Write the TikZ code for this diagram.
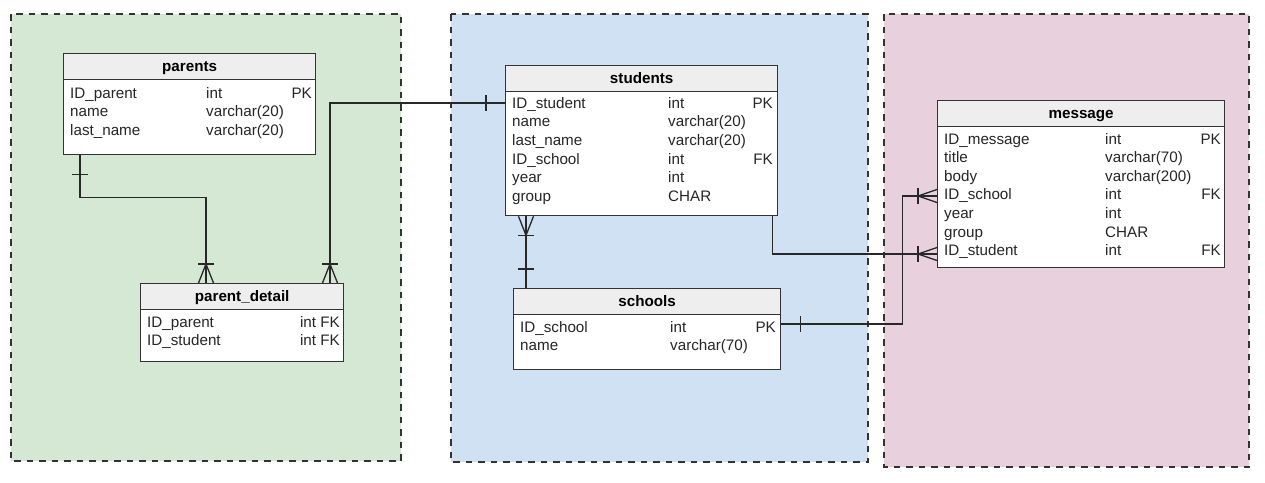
\documentclass[tikz,border=0pt]{standalone}
\usepackage{fontspec}
\setmainfont{Liberation Sans}
\usetikzlibrary{calc}
\definecolor{grpgreen}{RGB}{213,232,212}
\definecolor{grpblue}{RGB}{207,225,242}
\definecolor{grppink}{RGB}{232,208,220}
\definecolor{hdrgray}{RGB}{238,238,238}
\definecolor{lineclr}{RGB}{40,40,40}
\definecolor{bordclr}{RGB}{51,51,51}
\tikzset{
  grp/.style={draw=bordclr, line width=1.2pt, dash pattern=on 6.5pt off 6pt},
  tbl/.style={draw=bordclr, fill=white, line width=1.3pt, inner sep=0pt, anchor=north west},
  hdr/.style={draw=bordclr, fill=hdrgray, line width=1.3pt, inner sep=0pt, anchor=north west, minimum height=26pt},
  htxt/.style={font=\fontsize{15.2}{18}\selectfont\bfseries, inner sep=0pt, anchor=base},
  txt/.style={font=\fontsize{15.2}{18}\selectfont, inner sep=0pt, anchor=base west, text=black!85},
  rtxt/.style={font=\fontsize{15.2}{18}\selectfont, inner sep=0pt, anchor=base east, text=black!85},
  conn/.style={draw=lineclr, line width=1.3pt}
}
\begin{document}
\begin{tikzpicture}[x=1pt,y=-1pt]
\useasboundingbox (0,0) rectangle (1265,482);
% groups
\draw[grp, fill=grpgreen] (11,14) rectangle (401,461);
\draw[grp, fill=grpblue] (451,14) rectangle (868,462);
\draw[grp, fill=grppink] (884,14) rectangle (1249,467);

% parents
\node[tbl, minimum width=252pt, minimum height=101pt] (parents) at (63,53) {};
\node[hdr, minimum width=252pt] (parentsH) at (parents.north west) {};
\node[htxt] (parentsT) at ($(parentsH.center)+(0,5)$) {parents};
\node[txt] (p1) at (70,98) {ID\_parent};
\node[txt] (p1t) at (206,98) {int};
\node[rtxt] (p1k) at (312,98) {PK};
\node[txt] (p2) at (70,116.5) {name};
\node[txt] (p2t) at (206,116.5) {varchar(20)};
\node[txt] (p3) at (70,135) {last\_name};
\node[txt] (p3t) at (206,135) {varchar(20)};

% parent_detail
\node[tbl, minimum width=203pt, minimum height=78pt] (pd) at (140,283) {};
\node[hdr, minimum width=203pt] (pdH) at (pd.north west) {};
\node[htxt] (pdT) at ($(pdH.center)+(0,5)$) {parent\_detail};
\node[txt] (d1) at (147,327) {ID\_parent};
\node[rtxt] (d1k) at (340,327) {int FK};
\node[txt] (d2) at (147,345.5) {ID\_student};
\node[rtxt] (d2k) at (340,345.5) {int FK};

% students
\node[tbl, minimum width=272pt, minimum height=150pt] (students) at (505,65) {};
\node[hdr, minimum width=272pt] (studentsH) at (students.north west) {};
\node[htxt] (studentsT) at ($(studentsH.center)+(0,5)$) {students};
\node[txt] (s1) at (512,108) {ID\_student};
\node[txt] (s1t) at (668,108) {int};
\node[rtxt] (s1k) at (773,108) {PK};
\node[txt] (s2) at (512,126.7) {name};
\node[txt] (s2t) at (668,126.7) {varchar(20)};
\node[txt] (s3) at (512,145.4) {last\_name};
\node[txt] (s3t) at (668,145.4) {varchar(20)};
\node[txt] (s4) at (512,164.1) {ID\_school};
\node[txt] (s4t) at (668,164.1) {int};
\node[rtxt] (s4k) at (773,164.1) {FK};
\node[txt] (s5) at (512,182.8) {year};
\node[txt] (s5t) at (668,182.8) {int};
\node[txt] (s6) at (512,201.5) {group};
\node[txt] (s6t) at (668,201.5) {CHAR};

% schools
\node[tbl, minimum width=267pt, minimum height=81pt] (schools) at (513,288) {};
\node[hdr, minimum width=267pt] (schoolsH) at (schools.north west) {};
\node[htxt] (schoolsT) at ($(schoolsH.center)+(0,5)$) {schools};
\node[txt] (c1) at (520,332) {ID\_school};
\node[txt] (c1t) at (670,332) {int};
\node[rtxt] (c1k) at (776,332) {PK};
\node[txt] (c2) at (520,350.7) {name};
\node[txt] (c2t) at (670,350.7) {varchar(70)};

% message
\node[tbl, minimum width=287pt, minimum height=167pt] (message) at (937,100) {};
\node[hdr, minimum width=287pt] (messageH) at (message.north west) {};
\node[htxt] (messageT) at ($(messageH.center)+(0,5)$) {message};
\node[txt] (m1) at (944,144) {ID\_message};
\node[txt] (m1t) at (1105,144) {int};
\node[rtxt] (m1k) at (1221,144) {PK};
\node[txt] (m2) at (944,162.6) {title};
\node[txt] (m2t) at (1105,162.6) {varchar(70)};
\node[txt] (m3) at (944,181.2) {body};
\node[txt] (m3t) at (1105,181.2) {varchar(200)};
\node[txt] (m4) at (944,199.8) {ID\_school};
\node[txt] (m4t) at (1105,199.8) {int};
\node[rtxt] (m4k) at (1221,199.8) {FK};
\node[txt] (m5) at (944,218.4) {year};
\node[txt] (m5t) at (1105,218.4) {int};
\node[txt] (m6) at (944,237) {group};
\node[txt] (m6t) at (1105,237) {CHAR};
\node[txt] (m7) at (944,255.6) {ID\_student};
\node[txt] (m7t) at (1105,255.6) {int};
\node[rtxt] (m7k) at (1221,255.6) {FK};

% connector 1: parents -> parent_detail
\coordinate (e1) at ($(parents.south west)+(17,0)$);
\coordinate (e2) at ($(pd.north west)+(66,0)$);
\draw[conn] (e1) -- ++(0,42) -| (e2);
\draw[conn] ($(e1)+(-8,19)$) -- ++(16,0);
\draw[conn] ($(e2)+(-7.5,0)$) -- ($(e2)+(0,-19)$) -- ($(e2)+(7.5,0)$);
\draw[conn] ($(e2)+(-8,-19)$) -- ++(16,0);

% connector 2: students -> parent_detail
\coordinate (e3) at ($(students.north west)+(0,38)$);
\coordinate (e4) at ($(pd.north west)+(190,0)$);
\draw[conn] (e3) -| (e4);
\draw[conn] ($(e3)+(-19,-8)$) -- ++(0,16);
\draw[conn] ($(e4)+(-7.5,0)$) -- ($(e4)+(0,-19)$) -- ($(e4)+(7.5,0)$);
\draw[conn] ($(e4)+(-8,-19)$) -- ++(16,0);

% connector 3: students -> schools
\coordinate (e5) at ($(students.south west)+(21,0)$);
\coordinate (e6) at (e5 |- schools.north);
\draw[conn] (e5) -- (e6);
\draw[conn] ($(e5)+(-7.5,0)$) -- ($(e5)+(0,19)$) -- ($(e5)+(7.5,0)$);
\draw[conn] ($(e5)+(-8,19)$) -- ++(16,0);
\draw[conn] ($(e6)+(-8,-19)$) -- ++(16,0);

% connector 4: students -> message (ID_student)
\coordinate (e7) at ($(students.south east)+(-6,0)$);
\coordinate (e8) at ($(message.north west)+(0,154)$);
\draw[conn] (e7) |- (e8);
\draw[conn] ($(e8)+(0,-6.5)$) -- ($(e8)+(-19,0)$) -- ($(e8)+(0,6.5)$);
\draw[conn] ($(e8)+(-19,-8)$) -- ++(0,16);

% connector 5: schools -> message (ID_school)
\coordinate (e9) at ($(schools.north east)+(0,36)$);
\coordinate (e10) at ($(message.north west)+(0,96)$);
\draw[conn] (e9) -- ++(121,0) |- (e10);
\draw[conn] ($(e9)+(19,-8)$) -- ++(0,16);
\draw[conn] ($(e10)+(0,-6.5)$) -- ($(e10)+(-19,0)$) -- ($(e10)+(0,6.5)$);
\draw[conn] ($(e10)+(-19,-8)$) -- ++(0,16);
\end{tikzpicture}
\end{document}
